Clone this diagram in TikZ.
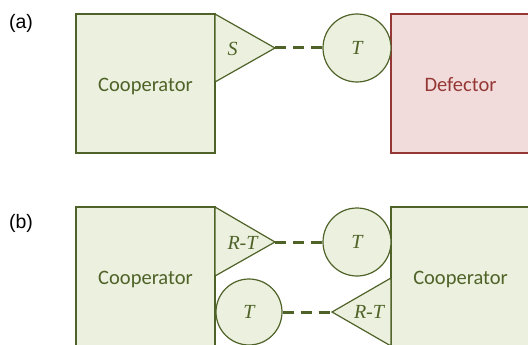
\documentclass[tikz,border=0pt]{standalone}
\usepackage{fontspec}
\setmainfont{Carlito}
\newfontfamily\arialfont{Liberation Sans}
\newfontfamily\serifit{Liberation Serif}
\definecolor{gfill}{HTML}{EBF1DE}
\definecolor{gline}{HTML}{4F6228}
\definecolor{rfill}{HTML}{F2DCDB}
\definecolor{rline}{HTML}{953735}
\tikzset{
  agentbox/.style={rectangle, minimum width=139pt, minimum height=139pt, line width=1.4pt, inner sep=0pt, text height=20pt, text depth=4.5pt, font=\fontsize{20.5}{24}\selectfont},
  coop/.style={agentbox, draw=gline, fill=gfill, text=gline},
  defect/.style={agentbox, draw=rline, fill=rfill, text=rline},
  tri/.style={draw=gline, fill=gfill, line width=1.2pt, line join=miter},
  circ/.style={circle, draw=gline, fill=gfill, line width=1.2pt, inner sep=0pt},
  payoff/.style={text=gline, font=\fontsize{20}{24}\selectfont\serifit\itshape, inner sep=0pt},
  panel/.style={font=\fontsize{19.5}{23}\selectfont\arialfont, inner sep=0pt},
  link/.style={draw=gline, line width=3pt, dash pattern=on 11pt off 7pt}
}
\begin{document}
\begin{tikzpicture}[x=1pt,y=-1pt]
\useasboundingbox (0,0) rectangle (528,345);
% ---------- (a)
\node[panel] (la) at (21,23) {(a)};
\node[coop] (ca) at (145.5,83.5) {Cooperator};
\node[defect] (da) at (460.5,83.5) {Defector};
\coordinate (ta1) at (215,14);
\coordinate (tatip) at (275,48);
\coordinate (ta2) at (215,82);
\draw[tri] (ta1) -- (tatip) -- (ta2) -- cycle;
\node[payoff] (sa) at (232.5,49) {S};
\node[circ, minimum size=68pt] (cira) at (357,48) {};
\node[payoff] (tla) at (cira) {T};
\draw[link] (tatip) -- (cira.west);
% ---------- (b)
\node[panel] (lb) at (21,223) {(b)};
\node[coop] (cb1) at (145.5,276.5) {Cooperator};
\node[coop] (cb2) at (460.5,276.5) {Cooperator};
\coordinate (tb1) at (215,207);
\coordinate (tbtip) at (275,242);
\coordinate (tb2) at (215,276);
\draw[tri] (tb1) -- (tbtip) -- (tb2) -- cycle;
\node[payoff] (rtb1) at (242.5,243) {R-T};
\node[circ, minimum size=68pt] (cirb1) at (357,242) {};
\node[payoff] (tlb1) at (cirb1) {T};
\draw[link] (tbtip) -- (cirb1.west);
\coordinate (tc1) at (391,278);
\coordinate (tctip) at (332,312);
\coordinate (tc2) at (391,346);
\draw[tri] (tc1) -- (tctip) -- (tc2) -- cycle;
\node[payoff] (rtb2) at (369,312) {R-T};
\node[circ, minimum size=66pt] (cirb2) at (249,312) {};
\node[payoff] (tlb2) at (cirb2) {T};
\draw[link] (cirb2.east) -- (tctip);
\end{tikzpicture}
\end{document}
